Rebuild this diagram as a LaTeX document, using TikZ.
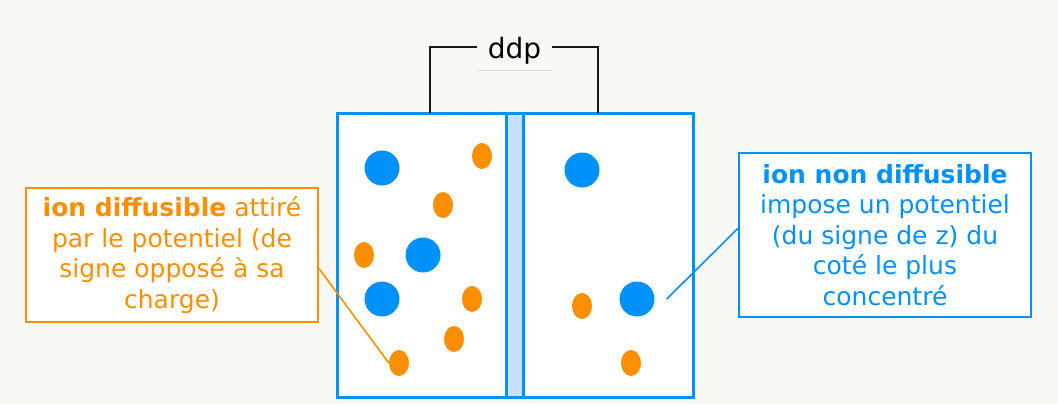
\documentclass[tikz,border=0pt]{standalone}
\usepackage{fontspec}
\setmainfont{DejaVu Sans}
\usetikzlibrary{calc}
\definecolor{bg}{RGB}{248,248,245}
\definecolor{ionblue}{RGB}{0,146,250}
\definecolor{ionorange}{RGB}{252,142,0}
\definecolor{membrane}{RGB}{200,225,250}
\definecolor{wire}{RGB}{25,25,25}
\tikzset{
  blueion/.style={circle,fill=ionblue,inner sep=0pt,minimum size=35pt},
  orangeion/.style={ellipse,fill=ionorange,inner sep=0pt,minimum width=20pt,minimum height=26pt},
  tagbox/.style={draw,fill=white,line width=2pt,inner sep=0pt,align=center,font=\fontsize{25}{30.5}\selectfont},
  wireline/.style={draw=wire,line width=1.6pt},
}
\usetikzlibrary{shapes.geometric}
\begin{document}
\begin{tikzpicture}[x=1pt,y=-1pt]
\useasboundingbox (0,0) rectangle (1058,404);
\fill[bg] (0,0) rectangle (1058,404);
% container
\fill[white] (337,113) rectangle (693,397);
\fill[membrane] (506,113) rectangle (523,397);
\draw[ionblue,line width=3pt] (337,113) rectangle (693,397);
\draw[ionblue,line width=3pt] (506.5,113) -- (506.5,397);
\draw[ionblue,line width=3pt] (523,113) -- (523,397);
\coordinate (jl) at (430,113);
\coordinate (jr) at (598,113);
% ddp
\node[font=\fontsize{28}{32}\selectfont,anchor=base] (ddp) at (514.5,59) {ddp};
\coordinate (tl) at (477,47);
\coordinate (tr) at (552,47);
\draw[wireline] (tl) -| (jl);
\draw[wireline] (tr) -| (jr);
\draw[black!15,line width=0.8pt] (477,70) -- (552,70);
% blue ions
\node[blueion] (b1) at (382,168) {};
\node[blueion] (b2) at (423,255) {};
\node[blueion] (b3) at (382,299) {};
\node[blueion] (b4) at (582,170) {};
\node[blueion] (b5) at (637,299) {};
% orange ions
\node[orangeion] (o1) at (482,156) {};
\node[orangeion] (o2) at (443,205) {};
\node[orangeion] (o3) at (364,255) {};
\node[orangeion] (o4) at (472,299) {};
\node[orangeion] (o5) at (454,339) {};
\node[orangeion] (o6) at (399,363) {};
\node[orangeion] (o7) at (582,306) {};
\node[orangeion] (o8) at (631,363) {};
% labels
\node[tagbox,draw=ionorange,text=ionorange,minimum width=292pt,minimum height=134pt] (obox) at (172,255)
  {\textbf{ion diffusible} attiré\\par le potentiel (de\\signe opposé à sa\\charge)};
\node[tagbox,draw=ionblue,text=ionblue,minimum width=292pt,minimum height=164pt] (bbox) at (885,235)
  {\textbf{ion non diffusible}\\impose un potentiel\\(du signe de z) du\\coté le plus\\concentré};
\draw[ionorange,line width=1.6pt] ($(obox.north east)!0.6!(obox.south east)$) -- (o6.west);
\draw[ionblue,line width=1.6pt] ($(bbox.north west)!0.46!(bbox.south west)$) -- ($(b5.east)+(12,0)$);
\end{tikzpicture}
\end{document}
